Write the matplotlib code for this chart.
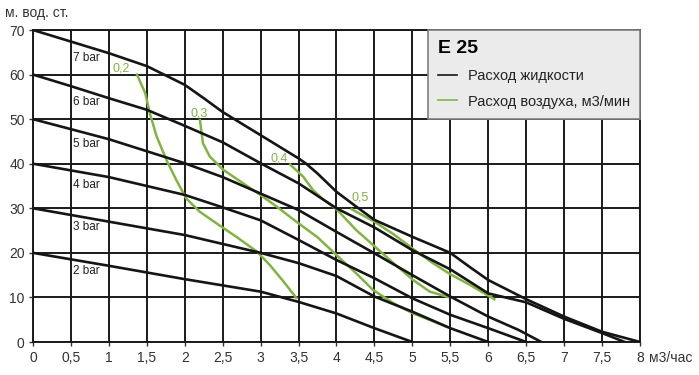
import matplotlib
matplotlib.use("Agg")
import matplotlib.pyplot as plt
from matplotlib.lines import Line2D

# pump curves (flow m3/h, head m)
bar7_x = [0, 1, 1.5, 1.75, 2, 2.25, 2.5, 3, 3.5, 3.6, 3.75, 4, 4.25, 4.5, 5, 5.5, 5.75, 6, 6.5, 7, 7.5, 8]
bar7_y = [70, 64.8, 61.9, 59.8, 57.7, 54.7, 51.6, 46.4, 41.2, 40.0, 37.8, 33.7, 30.5, 27.4, 23.6, 20.0, 16.9, 13.9, 9.6, 5.7, 2.3, 0]

bar6_x = [0, 0.5, 1, 1.5, 2, 2.5, 3, 3.5, 4, 4.5, 5, 5.5, 6, 6.5, 7, 7.5, 7.8]
bar6_y = [60, 57.4, 54.7, 52.1, 48.5, 44.8, 40.1, 35.6, 30.0, 25.7, 20.6, 16.3, 10.9, 8.9, 5.2, 2.0, 0]

bar5_x = [0, 1, 2, 2.5, 3, 3.5, 4, 4.5, 5, 5.5, 6, 6.4, 6.7]
bar5_y = [50, 45.5, 40.1, 37.0, 33.3, 29.6, 24.7, 19.9, 15.0, 10.2, 5.7, 2.7, 0]

bar4_x = [0, 1, 2, 2.5, 3, 3.5, 4, 4.5, 5, 5.5, 6, 6.5]
bar4_y = [40, 37.0, 33.0, 30.2, 27.3, 22.9, 18.4, 14.3, 9.8, 6.1, 3.1, 0]

bar3_x = [0, 1, 2, 3, 3.5, 4, 4.5, 5, 5.5, 6]
bar3_y = [30, 27.0, 24.0, 20.0, 17.7, 14.8, 10.2, 6.8, 3.1, 0]

bar2_x = [0, 1, 2, 3, 3.5, 4, 4.5, 5]
bar2_y = [20, 17.1, 14.1, 11.3, 9.0, 6.4, 3.1, 0]

# air consumption curves
air02_x = [1.37, 1.48, 1.54, 1.63, 1.76, 1.89, 2.02, 2.2, 2.42, 2.68, 2.95, 3.12, 3.30, 3.47]
air02_y = [60, 55.8, 51.3, 46.1, 40.8, 36.3, 32.2, 29.2, 26.6, 23.6, 20.3, 17.3, 13.6, 9.9]

air03_x = [2.2, 2.24, 2.33, 2.51, 2.77, 3.03, 3.21, 3.47, 3.75, 4.0, 4.26, 4.48, 4.75, 5.01, 5.25, 5.45]
air03_y = [49.8, 44.6, 41.6, 38.6, 35.6, 32.6, 30.4, 27.0, 23.5, 19.5, 15.4, 11.7, 8.7, 6.4, 4.8, 3.4]

air04_x = [3.39, 3.56, 3.69, 3.83, 4.0, 4.26, 4.48, 4.75, 5.01, 5.23, 5.47]
air04_y = [39.8, 37.1, 34.1, 31.9, 29.8, 25.1, 21.8, 17.7, 13.9, 11.3, 10.1]

air05_x = [4.2, 4.5, 4.75, 5.0, 5.27, 5.5, 5.76, 6.08]
air05_y = [29.8, 27.0, 24.2, 21.0, 17.7, 15.2, 12.8, 9.6]

bar_labels = ["7 bar", "6 bar", "5 bar", "4 bar", "3 bar", "2 bar"]
bar_label_y = [63.8, 53.9, 44.4, 35.2, 25.9, 16.0]

air_labels = ["0,2", "0,3", "0,4", "0,5"]
air_label_x = [1.05, 2.07, 3.13, 4.2]
air_label_y = [61.4, 51.3, 41.2, 32.5]

x_ticks = [0, 0.5, 1, 1.5, 2, 2.5, 3, 3.5, 4, 4.5, 5, 5.5, 6, 6.5, 7, 7.5, 8]
x_tick_labels = ["0", "0,5", "1", "1,5", "2", "2,5", "3", "3,5", "4", "4,5",
                 "5", "5,5", "6", "6,5", "7", "7,5", "8"]
y_ticks = [0, 10, 20, 30, 40, 50, 60, 70]

BLACK = "#151515"
GREEN = "#82b443"

plt.rcParams["font.family"] = ["Liberation Sans", "DejaVu Sans"]

fig = plt.figure(figsize=(6.99, 3.75), dpi=100)
ax = fig.add_axes([0.0472, 0.088, 0.8684, 0.832])

ax.set_xlim(0, 8)
ax.set_ylim(0, 70)
ax.set_xticks(x_ticks)
ax.set_xticklabels(x_tick_labels)
ax.set_yticks(y_ticks)
ax.tick_params(labelsize=10, colors="#333333", length=3, width=1)
ax.tick_params(axis="y", pad=3)
ax.grid(True, color="#1a1a1a", linewidth=1.4)
ax.set_axisbelow(True)
for side in ["top", "right", "left", "bottom"]:
    ax.spines[side].set_color("#1a1a1a")
    ax.spines[side].set_linewidth(1.4)

for xs, ys in [(air02_x, air02_y), (air03_x, air03_y), (air04_x, air04_y), (air05_x, air05_y)]:
    ax.plot(xs, ys, color=GREEN, linewidth=1.8, zorder=3)

for xs, ys in [(bar7_x, bar7_y), (bar6_x, bar6_y), (bar5_x, bar5_y),
               (bar4_x, bar4_y), (bar3_x, bar3_y), (bar2_x, bar2_y)]:
    ax.plot(xs, ys, color=BLACK, linewidth=1.9, zorder=4)

for label, y in zip(bar_labels, bar_label_y):
    ax.text(0.53, y, label, fontsize=8.5, color="#222222",
            va="center", ha="left", zorder=5)

for label, x, y in zip(air_labels, air_label_x, air_label_y):
    ax.text(x, y, label, fontsize=9, color=GREEN,
            va="center", ha="left", zorder=5)

handles = [Line2D([], [], color=BLACK, linewidth=1.2),
           Line2D([], [], color=GREEN, linewidth=1.2)]
leg = ax.legend(handles, ["Расход жидкости", "Расход воздуха, м3/мин"],
                loc="upper right", bbox_to_anchor=(1.0, 1.0), borderaxespad=0,
                fancybox=False, framealpha=1, facecolor="#ebebeb",
                edgecolor="#808080", fontsize=10.5, handlelength=1.3,
                handletextpad=0.75, labelspacing=0.8, borderpad=0.7,
                title="E 25", alignment="left")
leg.get_title().set_fontsize(14)
leg.get_title().set_fontweight("bold")
leg.get_frame().set_linewidth(1.2)
for t in leg.get_texts():
    t.set_color("#222222")

fig.text(0.007, 0.965, "м. вод. ст.", fontsize=10, color="#333333", va="center", ha="left")
fig.text(0.928, 0.045, "м3/час", fontsize=10, color="#333333", va="center", ha="left")

fig.savefig("out.png", dpi=100)
plt.close(fig)
